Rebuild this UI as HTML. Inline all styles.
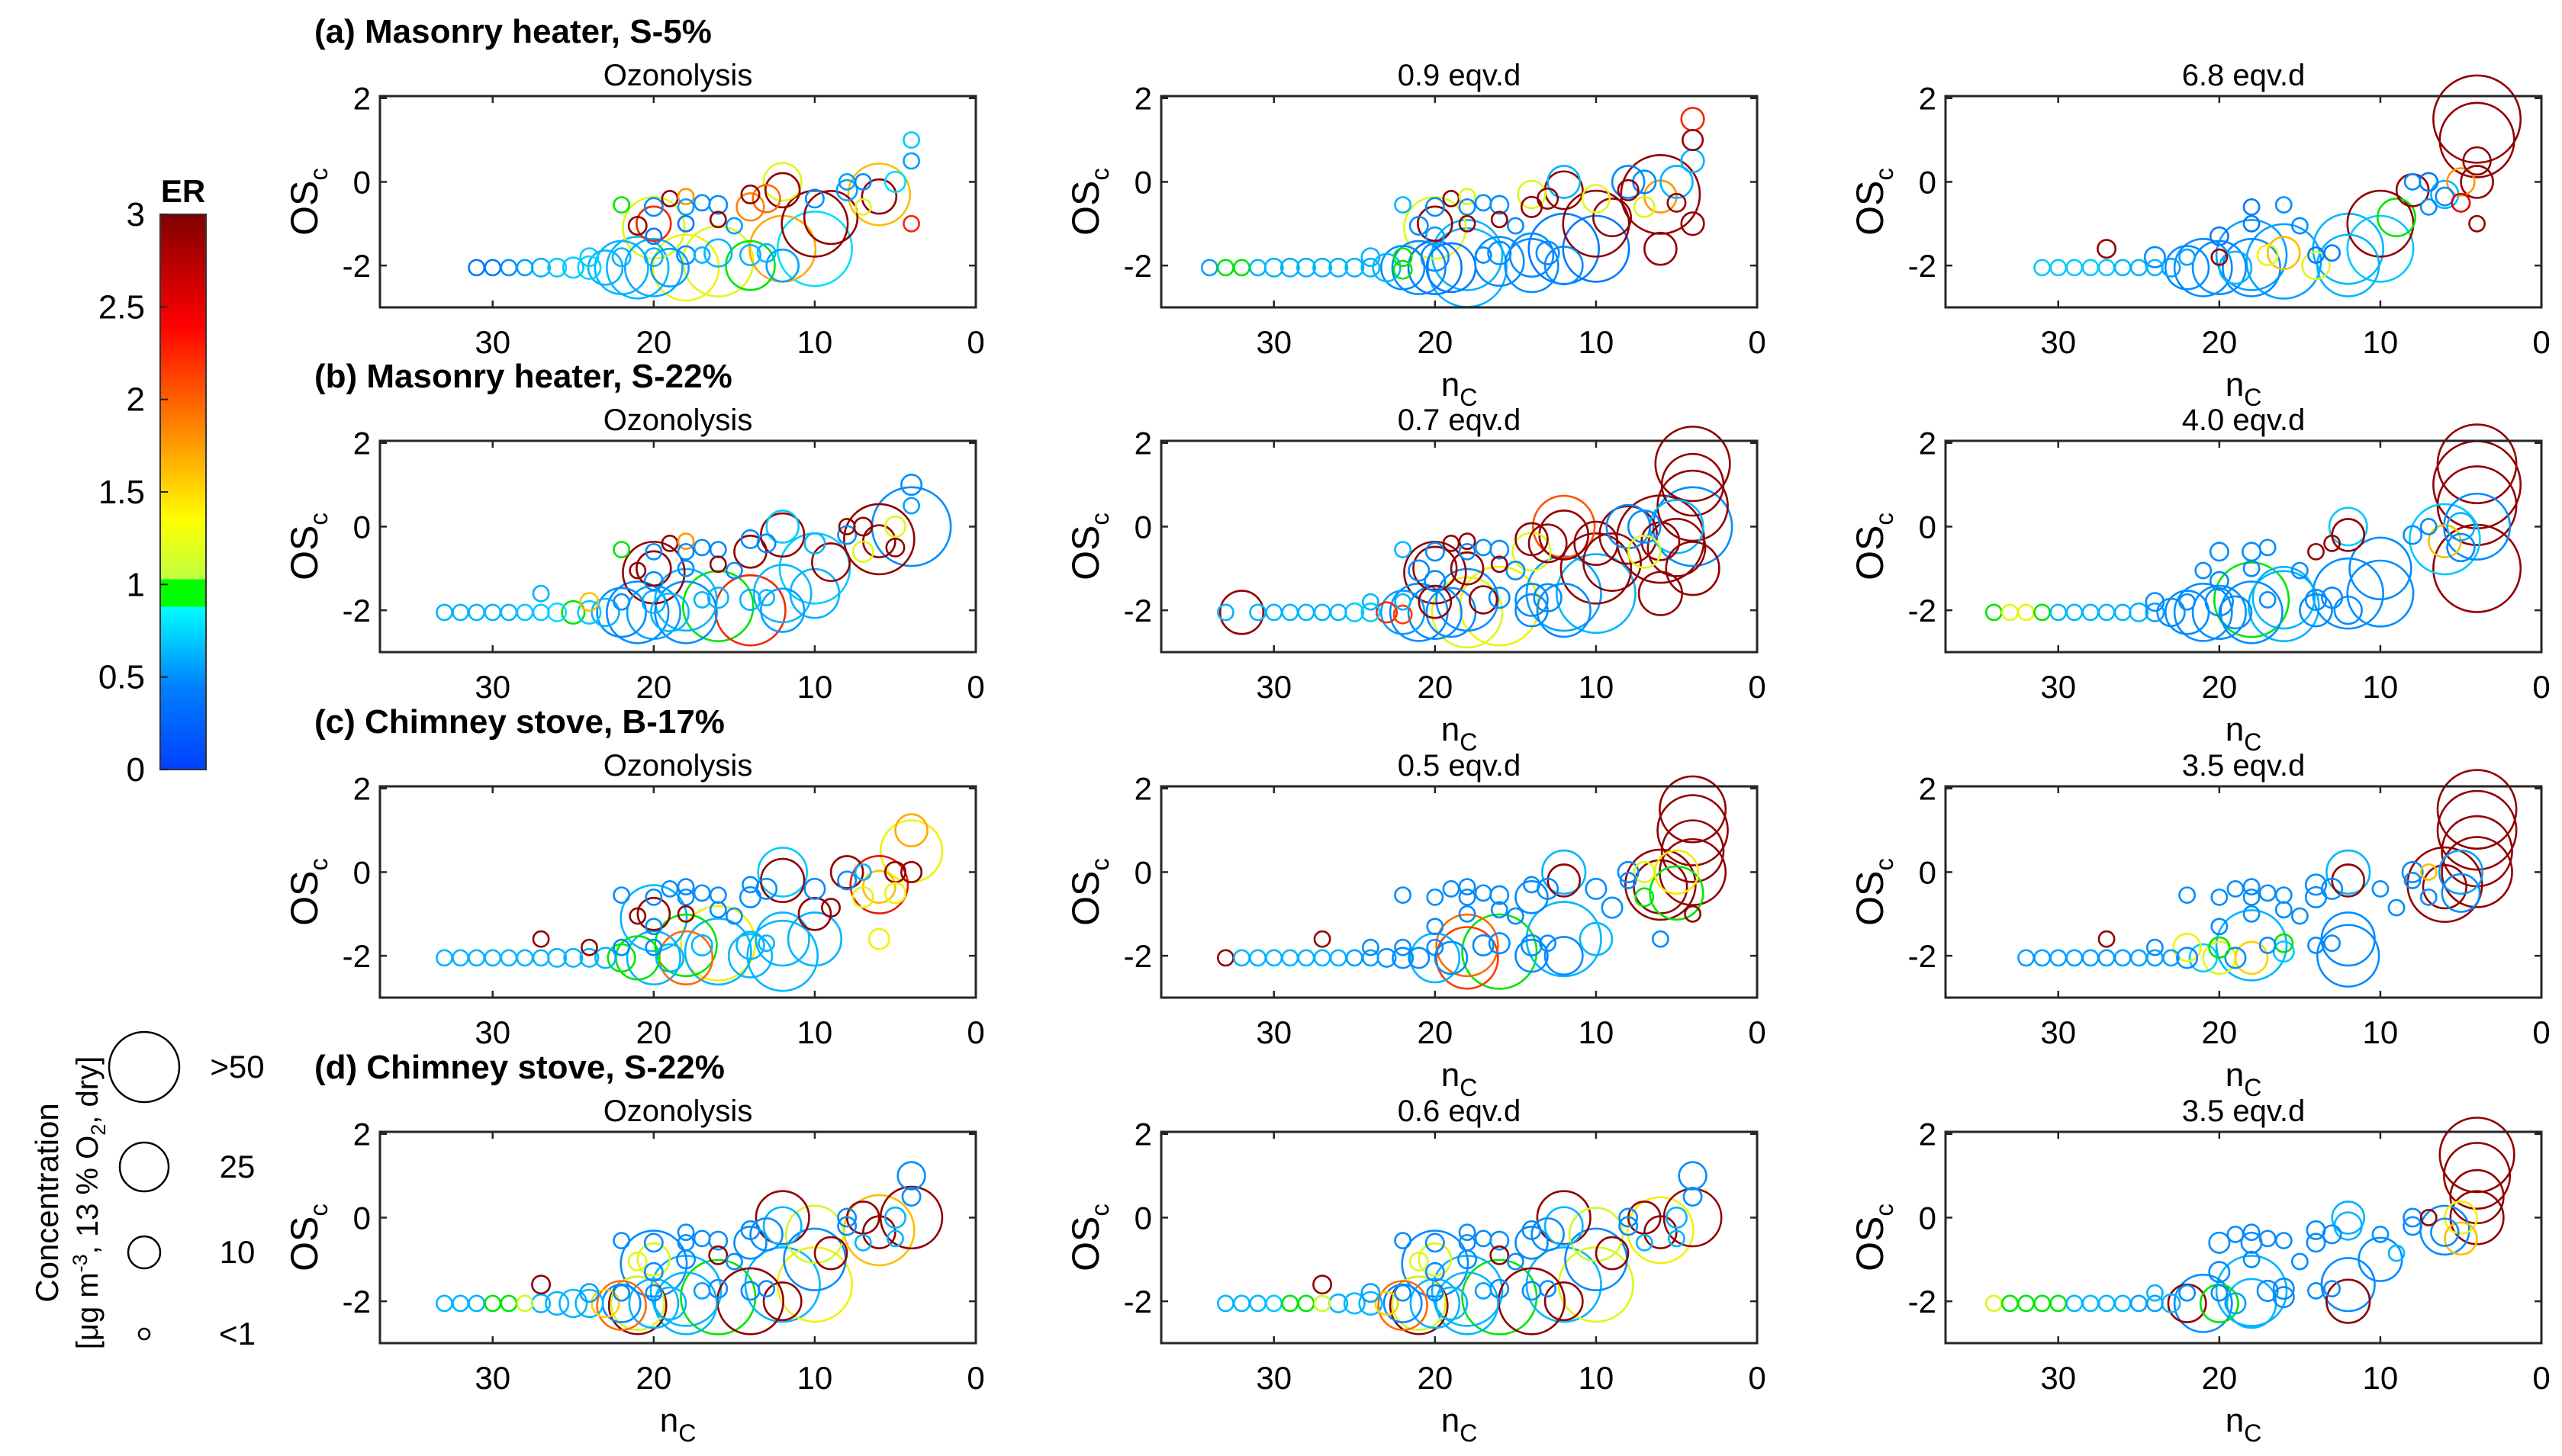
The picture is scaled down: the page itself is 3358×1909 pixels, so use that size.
<!DOCTYPE html>
<html><head><meta charset="utf-8">
<style>
html,body{margin:0;padding:0;background:#fff;}
svg{display:block;}
text{font-family:"Liberation Sans Narrow","Liberation Sans",sans-serif;}
</style></head>
<body>
<svg id="fig" width="3358" height="1909" viewBox="0 0 3358 1909" xmlns="http://www.w3.org/2000/svg">
<rect x="0" y="0" width="3358" height="1909" fill="#fff"/>
<defs>
<linearGradient id="cbgrad" x1="0" y1="1" x2="0" y2="0">
<stop offset="0" stop-color="#0040ff"/>
<stop offset="0.15" stop-color="#0080ff"/>
<stop offset="0.293" stop-color="#00ffff"/>
<stop offset="0.293" stop-color="#00ff00"/>
<stop offset="0.343" stop-color="#00ff00"/>
<stop offset="0.343" stop-color="#c0ff40"/>
<stop offset="0.45" stop-color="#ffff00"/>
<stop offset="0.6" stop-color="#ff9000"/>
<stop offset="0.8" stop-color="#ff0000"/>
<stop offset="1" stop-color="#800000"/>
</linearGradient>
</defs>
<g id="colorbar">
<rect x="210" y="281" width="60" height="728" fill="url(#cbgrad)" stroke="#333" stroke-width="2"/>
<text x="240" y="265" font-size="42" font-weight="bold" text-anchor="middle" style="font-family:'Liberation Sans',sans-serif">ER</text>
</g>
<g id="legend"></g>
<g id="panels"></g>
</svg>
<script>
// compound positions (shared across panels)
const nC  = [34,33,32,31,30,29,28,27,26,25,24,23,22,21,20,19, 24,22,20,18,17,16,14,13,12, 18,16,14,12,10,20,10,9,6,6, 12,12,14,13,14,10,8,8,7,5, 4,4,4,7,20,21,19,22,20,18, 18,17,16,16,15,18,20, 4,4,5,6,27,21,22];
const OSc = [-2.05,-2.05,-2.05,-2.05,-2.05,-2.05,-2.05,-2.05,-2.05,-2.05,-2.05,-2.05,-2.05,-2.05,-2.05,-2.05, -1.8,-1.8,-1.8,-1.75,-1.75,-1.7,-1.75,-1.7,-2.0, -2.05,-1.9,-2.0,-1.6,-1.6,-1.1,-1.0,-0.85,-0.3,-0.35, 0.0,-0.2,-0.6,-0.4,-0.3,-0.4,0.0,-0.2,0.0,0.0, 1.0,0.5,-1.0,-0.6,-1.0,-1.05,-0.4,-0.55,-0.6,-0.35, -0.6,-0.5,-0.55,-0.9,-1.05,-1.0,-1.3, 1.5,0.0,-0.5,-1.6,-1.6,-2.1,-2.1];

// concentrations (ug m-3) and ER per panel
const concA0 = [0,0,0,3,3,3,3,4,4,5,6,12,30,40,35,15, 4,4,4,4,3,8,5,4,10, 45,50,25,45,55,40,45,30,40,12, 15,12,8,8,4,4,3,5,3,5, 3,3,3,3,12,4,3,3,4,3, 3,3,4,3,3,3,3, 0,0,0,0,0,0,0];
const erA0   = [0,0,0,0.3,0.3,0.4,0.5,0.6,0.7,0.7,0.75,0.6,0.6,0.6,0.55,0.5, 0.7,0.6,0.6,0.4,0.6,0.6,0.6,0.6,0.5, 1.3,1.2,0.95,1.7,0.8,1.2,2.9,2.9,1.6,2.9, 1.2,2.9,1.9,2.0,2.9,0.4,0.5,0.5,0.4,0.8, 0.7,0.5,2.3,1.2,2.3,2.9,2.9,0.95,0.4,1.8, 0.5,0.4,0.4,2.9,0.5,0.3,0.3, 0,0,0,0,0,0,0];
const concA1 = [3,3,3,3,4,4,4,4,4,4,4,8,20,30,30,25, 4,4,8,50,3,6,20,6,15, 60,25,30,50,45,40,45,15,60,10, 10,15,5,5,8,8,10,5,6,10, 5,6,6,5,12,4,3,3,4,3, 3,3,4,3,3,3,4, 6,0,4,10,0,0,4];
const erA1   = [0.5,0.95,0.95,0.6,0.6,0.6,0.6,0.6,0.6,0.6,0.6,0.6,0.4,0.4,0.3,0.3, 0.6,0.95,0.4,0.6,0.4,0.4,0.4,0.4,0.4, 0.6,0.4,0.4,0.3,0.3,1.2,2.9,2.9,2.9,1.8, 0.6,2.9,2.9,2.9,1.2,1.2,0.4,2.9,0.4,0.6, 2.9,0.6,2.9,1.2,2.9,0.4,2.9,0.6,0.4,1.2, 0.4,0.4,0.4,2.9,0.4,2.9,0.5, 2.3,0,2.9,2.9,0,0,0.95];
const concA2 = [0,0,0,3,3,3,3,3,3,3,3,4,20,35,30,10, 5,3,3,50,5,10,3,3,40, 35,55,8,50,45,0,45,15,8,4, 0,0,0,0,0,0,3,10,4,8, 55,8,3,3,0,0,0,0,0,0, 3,0,3,0,3,3,4, 70,10,4,0,4,0,0];
const erA2   = [0,0,0,0.7,0.7,0.7,0.7,0.7,0.6,0.6,0.6,0.5,0.4,0.4,0.4,0.6, 0.4,0.5,2.9,0.5,1.3,1.6,0.3,0.3,0.6, 0.4,0.5,1.2,0.6,0.7,0,2.9,0.95,0.6,0.4, 0,0,0,0,0,0,0.4,2.9,0.3,1.8, 2.9,2.9,2.9,0.4,0,0,0,0,0,0, 0.3,0,0.4,0,0.4,0.3,0.3, 2.9,2.9,2.5,0,2.9,0,0];
const concB0 = [0,3,3,3,3,3,3,3,4,6,6,8,25,40,30,15, 4,3,6,40,3,5,5,3,20, 40,50,50,35,25,40,50,15,50,10, 10,20,10,4,4,5,3,4,4,5, 5,3,0,5,12,3,3,3,3,3, 3,3,3,3,3,3,4, 0,60,4,0,3,0,0];
const erB0   = [0,0.6,0.6,0.6,0.6,0.6,0.7,0.7,0.8,0.95,0.7,0.6,0.4,0.4,0.5,0.6, 1.6,0.4,0.6,0.6,0.6,0.6,0.6,0.6,0.5, 0.4,0.95,2.3,0.6,0.6,2.9,0.7,2.9,2.9,2.9, 0.7,2.9,2.9,0.4,0.4,0.6,2.9,0.4,2.9,1.2, 0.4,0.5,0,1.2,2.9,2.9,2.9,0.95,0.4,1.8, 0.4,0.4,0.4,2.9,0.4,0.4,0.4, 0,0.4,2.9,0,0.6,0,0];
const concB1 = [0,3,20,3,3,3,3,3,3,4,4,5,20,35,30,25, 3,3,10,40,8,5,10,8,30, 50,60,10,55,60,40,50,35,70,15, 40,25,15,15,10,20,20,35,10,30, 40,50,30,10,20,5,3,3,4,3, 3,3,4,3,4,10,5, 55,60,35,20,0,0,4];
const erB1   = [0,0.6,2.9,0.6,0.6,0.6,0.6,0.6,0.6,0.7,0.7,2.3,0.5,0.4,0.4,0.4, 0.6,0.6,2.9,0.4,2.9,0.4,0.4,0.4,0.4, 1.2,1.3,0.4,0.5,0.6,2.9,2.9,2.9,2.9,2.9, 2.1,2.9,1.2,2.9,2.9,2.9,0.4,2.9,0.4,0.6, 2.9,2.9,2.9,1.2,2.9,0.4,2.9,0.6,0.4,2.9, 0.4,0.4,0.4,2.9,0.4,2.9,0.4, 2.9,0.4,2.9,2.9,0,0,2.2];
const concB2 = [3,3,3,3,3,3,3,3,3,4,4,8,20,35,30,10, 4,3,8,55,3,40,5,5,8, 40,50,10,50,45,0,40,0,50,10, 15,10,3,3,0,0,0,4,3,8, 70,60,70,0,0,3,0,0,4,0, 4,3,0,0,3,3,4, 60,45,8,0,0,0,0];
const erB2   = [0.95,1.2,1.3,0.95,0.6,0.6,0.6,0.6,0.6,0.6,0.5,0.4,0.4,0.4,0.4,0.4, 0.4,0.4,0.4,0.95,0.4,0.6,0.4,0.4,0.4, 0.4,0.6,0.4,0.4,0.4,0,0.4,0,0.7,1.6, 0.7,2.9,2.9,2.9,0,0,0,0.4,0.4,0.6, 2.9,2.9,2.9,0,0,0.4,0,0,0.4,0, 0.4,0.4,0,0,0.4,0.4,0.4, 2.9,0.4,0.4,0,0,0,0];
const concC0 = [0,3,3,3,3,3,3,3,4,4,4,5,8,20,30,8, 3,3,3,40,5,55,8,3,50, 30,45,20,30,30,45,10,4,35,10, 25,20,5,5,3,5,10,4,3,5, 10,40,0,5,10,3,3,3,3,3, 3,3,3,3,3,3,3, 0,5,5,5,3,0,0];
const erC0   = [0,0.6,0.6,0.6,0.6,0.6,0.6,0.6,0.6,0.6,0.6,0.6,0.95,0.95,0.6,0.6, 2.9,0.4,0.4,0.95,0.6,1.3,0.6,0.6,0.6, 2.0,0.6,0.6,0.6,0.6,0.6,2.9,2.9,2.4,1.6, 0.7,2.9,0.4,0.4,0.4,0.4,2.9,0.4,0.6,2.9, 1.7,1.3,0,1.2,2.9,2.9,0.4,0.4,0.4,0.4, 0.4,0.4,0.4,0.4,0.4,2.9,0.4, 0,2.9,1.3,1.3,2.9,0,0];
const concC1 = [0,3,3,3,3,3,3,3,3,3,3,4,5,5,25,10, 3,3,3,40,5,5,5,3,15, 40,55,10,55,10,0,0,5,50,30, 20,10,10,5,3,5,5,3,5,20, 50,40,3,4,0,0,3,3,3,3, 3,3,4,3,3,3,3, 45,45,30,3,3,0,0];
const erC1   = [0,2.9,0.6,0.6,0.6,0.6,0.6,0.6,0.6,0.5,0.5,0.4,0.4,0.4,0.6,0.4, 0.4,0.4,0.4,2.0,0.4,0.4,0.4,0.4,0.4, 2.2,0.95,0.4,0.6,0.6,0,0,0.4,2.9,2.9, 0.6,2.9,0.4,0.4,0.4,0.4,0.4,0.4,1.2,1.4, 2.9,2.9,2.9,0.95,0,0,0.4,0.4,0.4,0.4, 0.4,0.4,0.4,0.4,0.4,0.4,0.4, 2.9,2.9,0.95,0.4,2.9,0,0];
const concC2 = [0,0,3,3,3,3,3,3,3,3,3,3,5,8,10,5, 3,8,5,50,3,4,3,3,40, 10,5,0,30,0,0,0,3,55,20, 20,10,5,5,5,3,5,3,3,20, 60,50,0,3,0,0,3,3,3,3, 3,3,3,3,3,3,3, 60,50,15,0,3,0,0];
const erC2   = [0,0,0.5,0.5,0.5,0.5,0.5,0.5,0.5,0.5,0.5,0.5,0.4,0.7,1.2,0.4, 0.4,1.3,0.95,0.6,0.4,0.95,0.4,0.4,0.4, 1.5,0.7,0,0.4,0,0,0,0.4,2.9,2.9, 0.6,2.9,0.4,0.4,0.4,0.4,0.4,0.4,1.6,0.5, 2.9,2.9,0,0.4,0,0,0.4,0.4,0.4,0.4, 0.4,0.4,0.4,0.4,0.4,0.4,0.4, 2.9,2.9,0.4,0,2.9,0,0];
const concD0 = [0,3,3,3,3,3,3,4,6,8,8,8,15,30,25,10, 4,3,3,50,3,4,4,3,15, 40,55,45,55,55,45,40,10,50,10, 30,15,10,10,4,35,4,4,10,5, 8,4,0,3,10,4,0,3,4,3, 3,3,4,4,3,4,4, 0,40,3,0,4,35,25];
const erD0   = [0,0.6,0.6,0.6,0.95,0.95,1.1,0.6,0.6,0.6,0.6,1.5,0.4,1.1,0.6,0.6, 0.5,0.4,0.4,0.6,0.5,0.4,0.4,0.4,2.9, 0.6,0.95,2.9,0.6,1.3,0.4,0.4,2.9,1.6,2.9, 2.9,0.6,0.4,0.4,0.4,1.1,0.4,0.4,2.9,0.6, 0.4,0.4,0,0.6,1.2,1.2,0,0.4,0.4,0.4, 0.4,0.4,0.4,2.9,0.4,0.4,0.4, 0,2.9,0.6,0,2.9,2.9,2.0];
const concD1 = [0,3,3,3,3,3,3,3,4,5,6,6,15,30,25,10, 4,3,3,50,3,4,4,3,15, 40,55,45,55,55,45,40,10,45,10, 30,15,10,10,4,30,4,4,10,5, 8,4,0,3,10,4,0,3,4,3, 3,3,4,4,3,4,4, 0,35,3,0,4,35,25];
const erD1   = [0,0.6,0.6,0.6,0.7,0.95,0.95,1.1,0.6,0.6,0.6,1.5,0.4,1.1,0.6,0.6, 0.5,0.4,0.4,0.6,0.5,0.4,0.4,0.4,2.9, 0.6,0.95,2.9,0.6,1.2,0.4,0.4,2.9,1.3,2.9, 2.9,0.6,0.4,0.4,0.4,1.1,0.4,0.4,2.9,0.6, 0.4,0.4,0,0.6,1.2,1.2,0,0.4,0.4,0.4, 0.4,0.4,0.4,2.9,0.4,0.4,0.4, 0,2.9,0.6,0,2.9,2.9,2.0];
const concD2 = [3,3,3,3,3,3,3,3,3,3,3,4,15,35,15,5, 3,3,3,50,5,5,3,3,20, 25,5,0,30,0,0,20,3,25,8, 10,8,4,4,4,3,4,4,3,10, 45,30,0,0,0,0,3,0,5,3, 5,3,3,0,3,3,5, 55,30,10,0,0,0,0];
const erD2   = [1.2,0.95,0.95,0.95,0.95,0.6,0.6,0.6,0.6,0.5,0.5,0.6,2.9,0.4,0.95,0.5, 0.6,0.4,0.4,0.6,0.4,0.4,0.4,0.4,2.9, 0.6,0.4,0,0.4,0,0,0.4,0.6,0.4,0.4, 0.6,0.6,0.4,0.4,0.4,0.4,0.4,0.4,2.9,1.3, 2.9,2.9,0,0,0,0,0.4,0,0.4,0.4, 0.4,0.4,0.4,0,0.4,0.4,0.4, 2.9,2.9,1.6,0,0,0,0];

const rowTitles = ["(a) Masonry heater, S-5%","(b) Masonry heater, S-22%","(c) Chimney stove, B-17%","(d) Chimney stove, S-22%"];
const subTitles = [["Ozonolysis","0.9 eqv.d","6.8 eqv.d"],["Ozonolysis","0.7 eqv.d","4.0 eqv.d"],["Ozonolysis","0.5 eqv.d","3.5 eqv.d"],["Ozonolysis","0.6 eqv.d","3.5 eqv.d"]];
const xTicks = [30,20,10,0];
const yTicks = [2,0,-2];
const cbTicks = [0,0.5,1,1.5,2,2.5,3];
const cbTickLabels = ["0","0.5","1","1.5","2","2.5","3"];
const legendConc = [50,25,10,1];
const legendLabels = [">50","25","10","<1"];

const panelConc = [[concA0,concA1,concA2],[concB0,concB1,concB2],[concC0,concC1,concC2],[concD0,concD1,concD2]];
const panelER = [[erA0,erA1,erA2],[erB0,erB1,erB2],[erC0,erC1,erC2],[erD0,erD1,erD2]];

const NS="http://www.w3.org/2000/svg";
const svg=document.getElementById('fig');
const panelsG=document.getElementById('panels');
const colL=[498,1522,2550], rowT=[126,578,1031,1484], PW=781, PH=277;
const XMAX=37, XMIN=0, YMAX=2.05, YMIN=-3;

function mk(tag,attrs,parent){const e=document.createElementNS(NS,tag);for(const k in attrs)e.setAttribute(k,attrs[k]);(parent||svg).appendChild(e);return e;}
function radius(c){
  const pts=[[0,4.5],[1,7],[10,21],[25,32],[50,46],[100,74]];
  for(let i=1;i<pts.length;i++){if(c<=pts[i][0]){const a=pts[i-1],b=pts[i];return a[1]+(c-a[0])/(b[0]-a[0])*(b[1]-a[1]);}}
  return 74;
}
function erColor(v){
  if(v>=0.88&&v<1.02) return 'rgb(0,230,0)';
  const st=[[0,[0,64,255]],[0.45,[0,150,255]],[0.88,[0,240,255]],[1.02,[190,255,50]],[1.35,[250,240,0]],[1.8,[255,150,0]],[2.2,[255,60,0]],[2.5,[220,0,0]],[3,[128,0,0]]];
  v=Math.max(0,Math.min(3,v));
  for(let i=1;i<st.length;i++){if(v<=st[i][0]){const a=st[i-1],b=st[i];const t=(v-a[0])/(b[0]-a[0]);return 'rgb('+a[1].map((x,j)=>Math.round(x+t*(b[1][j]-x))).join(',')+')';}}
  return 'rgb(128,0,0)';
}

// colorbar ticks
const cbTop=281, cbBot=1009;
cbTicks.forEach((v,i)=>{
  const y=cbBot-(v/3)*(cbBot-cbTop);
  mk('line',{x1:210,x2:220,y1:y,y2:y,stroke:'#222','stroke-width':2});
  const t=mk('text',{x:190,y:y+15,'font-size':44,'text-anchor':'end',style:"font-family:'Liberation Sans',sans-serif"});
  t.textContent=cbTickLabels[i];
  
  
});

// size legend
const legG=document.getElementById('legend');
const legY=[1399,1530,1642,1749];
legendConc.forEach((c,i)=>{
  const ci=mk('circle',{cx:189,cy:legY[i],r:radius(c),fill:'none',stroke:'#000','stroke-width':2.5},legG);
  
  
  const t=mk('text',{x:311,y:legY[i]+14,'font-size':42,'text-anchor':'middle'},legG);
  t.textContent=legendLabels[i];
  
  
});
const lt1=mk('text',{x:0,y:0,'font-size':42,'text-anchor':'middle',transform:'translate(76,1577) rotate(-90)',style:"font-family:'Liberation Sans',sans-serif"},legG);
lt1.textContent='Concentration';


const lt2=mk('text',{x:0,y:0,'font-size':40,'text-anchor':'middle',transform:'translate(128,1577) rotate(-90)',style:"font-family:'Liberation Sans',sans-serif"},legG);
lt2.innerHTML='[μg m<tspan dy="-14" font-size="27">-3</tspan><tspan dy="14">, 13 % O</tspan><tspan dy="10" font-size="27">2</tspan><tspan dy="-10">, dry]</tspan>';



for(let r=0;r<4;r++){
  const T=rowTitles[r];
  const rt=mk('text',{x:412,y:rowT[r]-70,'font-size':44,'font-weight':'bold'},panelsG);
  rt.textContent=T;
  
  
  for(let k=0;k<3;k++){
    const L=colL[k], Tp=rowT[r];
    const xs=v=>L+(XMAX-v)/(XMAX-XMIN)*PW;
    const ys=v=>Tp+(YMAX-v)/(YMAX-YMIN)*PH;
    const g=mk('g',{},panelsG);
    
    
    mk('rect',{x:L,y:Tp,width:PW,height:PH,fill:'#fff'},g);
    const st=mk('text',{x:L+PW/2,y:Tp-14,'font-size':40,'text-anchor':'middle'},g);
    st.textContent=subTitles[r][k];
    
    
    const conc=panelConc[r][k], er=panelER[r][k];
    const idx=nC.map((_,i)=>i).filter(i=>conc[i]>0).sort((a,b)=>conc[b]-conc[a]);
    idx.forEach(i=>{
      const c=mk('circle',{cx:xs(nC[i]),cy:ys(OSc[i]),r:radius(conc[i]),fill:'none',stroke:erColor(er[i]),'stroke-width':2.6},g);
      
      
    });
    const bx=mk('rect',{x:L,y:Tp,width:PW,height:PH,fill:'none',stroke:'#262626','stroke-width':3},g);
    
    
    xTicks.forEach(v=>{
      const x=xs(v);
      mk('line',{x1:x,x2:x,y1:Tp+PH,y2:Tp+PH-9,stroke:'#262626','stroke-width':2.5},g);
      mk('line',{x1:x,x2:x,y1:Tp,y2:Tp+9,stroke:'#262626','stroke-width':2.5},g);
      const t=mk('text',{x:x,y:Tp+PH+60,'font-size':42,'text-anchor':'middle'},g);
      t.textContent=String(v);
      
      
    });
    yTicks.forEach(v=>{
      const y=ys(v);
      mk('line',{x1:L,x2:L+9,y1:y,y2:y,stroke:'#262626','stroke-width':2.5},g);
      mk('line',{x1:L+PW,x2:L+PW-9,y1:y,y2:y,stroke:'#262626','stroke-width':2.5},g);
      const t=mk('text',{x:L-12,y:y+15,'font-size':42,'text-anchor':'end'},g);
      t.textContent=String(v);
      
      
    });
    const yl=mk('text',{x:0,y:0,'font-size':50,'text-anchor':'middle',transform:'translate('+(L-82)+','+(Tp+PH/2)+') rotate(-90)',style:"font-family:'Liberation Sans',sans-serif"},g);
    yl.innerHTML='OS<tspan dy="13" font-size="33">c</tspan>';
    
    
    if(k>0||r===3){
      const xl=mk('text',{x:L+PW/2,y:Tp+PH+116,'font-size':44,'text-anchor':'middle'},g);
      xl.innerHTML='n<tspan dy="13" font-size="32">C</tspan>';
      
      
    }
  }
}
</script>
</body></html>
